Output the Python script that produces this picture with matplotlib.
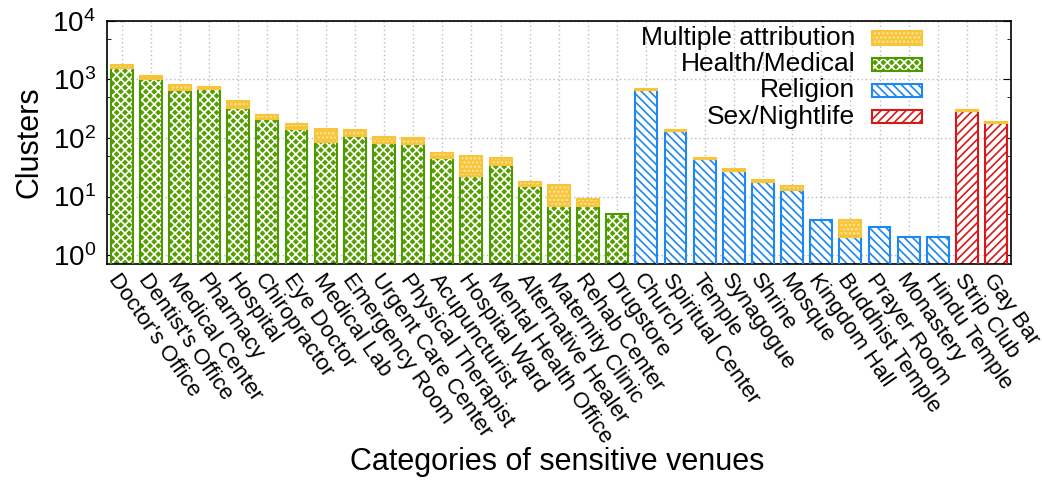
import matplotlib
matplotlib.use("Agg")
import matplotlib.pyplot as plt
from matplotlib.patches import Rectangle
from matplotlib.ticker import FixedLocator, NullFormatter
import numpy as np

plt.rcParams['font.family'] = ['Liberation Sans', 'DejaVu Sans']
plt.rcParams['mathtext.fontset'] = 'custom'
plt.rcParams['mathtext.rm'] = 'Liberation Sans'
plt.rcParams['mathtext.it'] = 'Liberation Sans'
plt.rcParams['hatch.linewidth'] = 1.2

# venue categories, grouped
health_venues = ["Doctor's Office", "Dentist's Office", "Medical Center", "Pharmacy",
                 "Hospital", "Chiropractor", "Eye Doctor", "Medical Lab", "Emergency Room",
                 "Urgent Care Center", "Physical Therapist", "Acupuncturist", "Hospital Ward",
                 "Mental Health Office", "Alternative Healer", "Maternity Clinic",
                 "Rehab Center", "Drugstore"]
religion_venues = ["Church", "Spiritual Center", "Temple", "Synagogue", "Shrine", "Mosque",
                   "Kingdom Hall", "Buddhist Temple", "Prayer Room", "Monastery", "Hindu Temple"]
nightlife_venues = ["Strip Club", "Gay Bar"]

# clusters attributed to a single category
health_vals = [1550, 1010, 670, 700, 328, 210, 142, 84, 108, 83, 78, 45, 22, 35, 15, 7, 7, 5]
religion_vals = [660, 130, 44, 27, 18, 13, 4, 2, 3, 2, 2]
nightlife_vals = [290, 178]

# clusters with multiple attribution (stacked on top)
multi_health = [250, 140, 125, 57, 97, 40, 29, 56, 27, 23, 23, 10, 27, 11, 3, 9, 2, 0]
multi_religion = [30, 8, 2, 3, 1, 2, 0, 2, 0, 0, 0]
multi_nightlife = [8, 6]

labels = health_venues + religion_venues + nightlife_venues
base = health_vals + religion_vals + nightlife_vals
multi = multi_health + multi_religion + multi_nightlife
groups = (["Health/Medical"] * len(health_vals) + ["Religion"] * len(religion_vals)
          + ["Sex/Nightlife"] * len(nightlife_vals))

styles = {
    "Multiple attribution": dict(face='#f8c43a', hatch='....', hcol='#fde79a', edge='#f8c43a'),
    "Health/Medical": dict(face='#55a000', hatch='xxxx', hcol='white', edge='#4c9a00'),
    "Religion": dict(face='white', hatch='\\\\\\\\', hcol='#1e88f0', edge='#1e88f0'),
    "Sex/Nightlife": dict(face='white', hatch='////', hcol='#d81818', edge='#d81818'),
}

fig = plt.figure(figsize=(10.42, 4.82), dpi=100)
ax = fig.add_axes([0.1027, 0.452, 0.8673, 0.5046])

x = np.arange(len(labels))
w = 0.75


def draw_bar(xs, heights, bottoms, st):
    ax.bar(xs, heights, w, bottom=bottoms, color=st['face'], edgecolor=st['hcol'],
           hatch=st['hatch'], linewidth=0, zorder=2)
    ax.bar(xs, heights, w, bottom=bottoms, fill=False, edgecolor=st['edge'],
           linewidth=1.5, zorder=3)


for g in ["Health/Medical", "Religion", "Sex/Nightlife"]:
    idx = [i for i, gg in enumerate(groups) if gg == g]
    draw_bar(x[idx], [base[i] for i in idx], None, styles[g])

idx = [i for i in range(len(multi)) if multi[i] > 0]
draw_bar(x[idx], [multi[i] for i in idx], [base[i] for i in idx],
         styles["Multiple attribution"])

ax.set_yscale('log')
ax.set_ylim(0.7, 10000)
ax.set_xlim(-0.5, len(labels) - 0.5)

ax.set_xticks(x)
ax.set_xticklabels(labels, rotation=-55, ha='left', va='top',
                   rotation_mode='anchor', fontsize=16)
ax.tick_params(axis='x', length=0, pad=4)

ax.yaxis.set_major_locator(FixedLocator([1, 10, 100, 1000, 10000]))
ax.yaxis.set_minor_locator(FixedLocator([5, 50, 500, 5000]))
ax.yaxis.set_minor_formatter(NullFormatter())
ax.tick_params(axis='y', which='major', direction='in', length=6, right=True,
               labelsize=20, pad=8)
ax.tick_params(axis='y', which='minor', direction='in', length=3, right=True)

ax.grid(True, which='major', color='#bbbbbb', linestyle=(0, (1, 2)), linewidth=1)
ax.set_axisbelow(True)
for s in ax.spines.values():
    s.set_linewidth(1.2)

ax.set_ylabel("Clusters", fontsize=22, labelpad=6)
fig.text(0.535, 1 - 462 / 482, "Categories of sensitive venues", fontsize=22,
         ha='center', va='center')

# gnuplot style key: right aligned text, sample box on the right
legend_order = ["Multiple attribution", "Health/Medical", "Religion", "Sex/Nightlife"]
for k, name in enumerate(legend_order):
    yc = 0.93 - k * 0.108
    st = styles[name]
    ax.text(0.828, yc, name, transform=ax.transAxes, ha='right', va='center',
            fontsize=19, zorder=5)
    ax.add_patch(Rectangle((0.846, yc - 0.027), 0.056, 0.054, transform=ax.transAxes,
                           facecolor=st['face'], edgecolor=st['hcol'], hatch=st['hatch'],
                           linewidth=0, zorder=5))
    ax.add_patch(Rectangle((0.846, yc - 0.027), 0.056, 0.054, transform=ax.transAxes,
                           fill=False, edgecolor=st['edge'], linewidth=1.5, zorder=6))

fig.savefig("out.png", dpi=100)
